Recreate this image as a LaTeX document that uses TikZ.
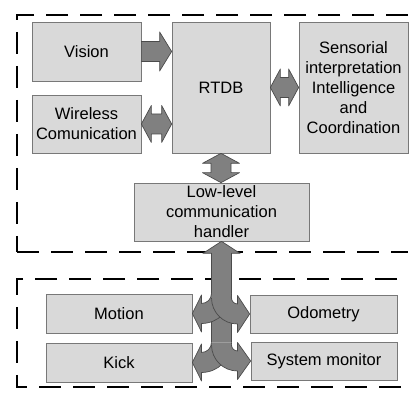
\documentclass[tikz,border=0pt]{standalone}
\usepackage{fontspec}
\setmainfont{Liberation Sans}
\usetikzlibrary{calc}
\definecolor{boxgray}{RGB}{217,217,217}
\definecolor{boxline}{RGB}{120,120,120}
\definecolor{busgray}{RGB}{128,128,128}
\definecolor{busline}{RGB}{75,75,75}

\tikzset{
  module/.style={draw=boxline, fill=boxgray, line width=0.7pt, align=center,
    inner sep=0pt, font=\fontsize{16.5}{20}\selectfont},
  frame/.style={line width=1.3pt, dash pattern=on 22pt off 12pt},
  bus/.style={fill=busgray, draw=busline, line width=0.7pt, line join=round},
  harrow/.style={to path={let \p1=(\tikztostart), \p2=(\tikztotarget) in
    (\x1,\y1+10pt) -- (\x2-12pt,\y1+10pt) -- (\x2-12pt,\y1+19.5pt) -- (\x2,\y1)
    -- (\x2-12pt,\y1-19.5pt) -- (\x2-12pt,\y1-10pt) -- (\x1,\y1-10pt) -- cycle}},
  hdarrow/.style={to path={let \p1=(\tikztostart), \p2=(\tikztotarget) in
    (\x1,\y1) -- (\x1+10pt,\y1+18.5pt) -- (\x1+10pt,\y1+10pt) -- (\x2-10pt,\y1+10pt)
    -- (\x2-10pt,\y1+18.5pt) -- (\x2,\y1) -- (\x2-10pt,\y1-18.5pt) -- (\x2-10pt,\y1-10pt)
    -- (\x1+10pt,\y1-10pt) -- (\x1+10pt,\y1-18.5pt) -- cycle}},
  vdarrow/.style={to path={let \p1=(\tikztostart), \p2=(\tikztotarget) in
    (\x1,\y1) -- (\x1+18.5pt,\y1-10pt) -- (\x1+10pt,\y1-10pt) -- (\x1+10pt,\y2+10pt)
    -- (\x1+18.5pt,\y2+10pt) -- (\x1,\y2) -- (\x1-18.5pt,\y2+10pt) -- (\x1-10pt,\y2+10pt)
    -- (\x1-10pt,\y1-10pt) -- (\x1-18.5pt,\y1-10pt) -- cycle}}
}

% curved branches of the bus leaving the handler
\newcommand{\branchleft}[1]{%
  \filldraw[bus] let \p1=(#1.east), \p2=(llc.south) in
    (\x2-10pt,\y1+20pt) arc[start angle=0,end angle=-90,radius=10pt]
    -- (\x2-20pt,\y1+18.5pt) -- (\x1,\y1) -- (\x2-20pt,\y1-18.5pt) -- (\x2-20pt,\y1-10pt)
    arc[start angle=-90,end angle=0,radius=30pt];}
\newcommand{\branchright}[1]{%
  \filldraw[bus] let \p1=(#1.west), \p2=(llc.south) in
    (\x2+10pt,\y1+16pt) arc[start angle=180,end angle=270,radius=6pt]
    -- (\x2+16pt,\y1+18.5pt) -- (\x1,\y1) -- (\x2+16pt,\y1-18.5pt) -- (\x2+16pt,\y1-10pt)
    arc[start angle=270,end angle=180,radius=26pt];}

\begin{document}
\begin{tikzpicture}[x=1pt, y=1pt]
  \useasboundingbox (0,0) rectangle (416,406);

  % frames
  \draw[frame] (408,391) -- (17,391) -- (17,154);
  \draw[frame] (17,154) -- (408,154);
  \draw[frame] (397,127) -- (17,127) -- (17,19) -- (408,19);

  % upper level
  \node[module, minimum width=109pt, minimum height=59pt] (vision) at (86.5,354.5) {Vision};
  \node[module, minimum width=109pt, minimum height=58pt] (wireless) at (86.5,282) {Wireless\\Comunication};
  \node[module, minimum width=98pt, minimum height=131pt] (rtdb) at (221,318.5) {RTDB};
  \node[module, minimum width=109pt, minimum height=131pt] (sensor) at (353.5,318.5)
    {Sensorial\\interpretation\\Intelligence\\and\\Coordination};
  \node[module, minimum width=175pt, minimum height=58pt] (llc) at (221.5,194)
    {Low-level\\communication\\handler};

  % lower level
  \node[module, minimum width=146pt, minimum height=39pt] (motion) at (119,92.5) {Motion};
  \node[module, minimum width=147pt, minimum height=38pt] (odo) at (323.5,92) {Odometry};
  \node[module, minimum width=146pt, minimum height=39pt] (kick) at (119,43.5) {Kick};
  \node[module, minimum width=146pt, minimum height=38pt] (sysmon) at (324,45) {System monitor};

  % arrows
  \draw[bus, harrow] (vision.east) to (rtdb.west);
  \draw[bus, hdarrow] (wireless.east) to (rtdb.west);
  \draw[bus, hdarrow] (rtdb.east) to (sensor.west);
  \draw[bus, vdarrow] (rtdb.south) to (llc.north);

  % bus to the lower level
  \filldraw[bus] let \p1=(llc.south), \p2=(kick.east) in
    (\x1-10pt,\y2+20pt) -- (\x1-10pt,\y1-12pt) -- (\x1-18.5pt,\y1-12pt) -- (\x1,\y1)
    -- (\x1+18.5pt,\y1-12pt) -- (\x1+10pt,\y1-12pt) -- (\x1+10pt,\y2+20pt);
  \branchleft{motion}
  \branchright{odo}
  \branchleft{kick}
  \branchright{sysmon}
\end{tikzpicture}
\end{document}
